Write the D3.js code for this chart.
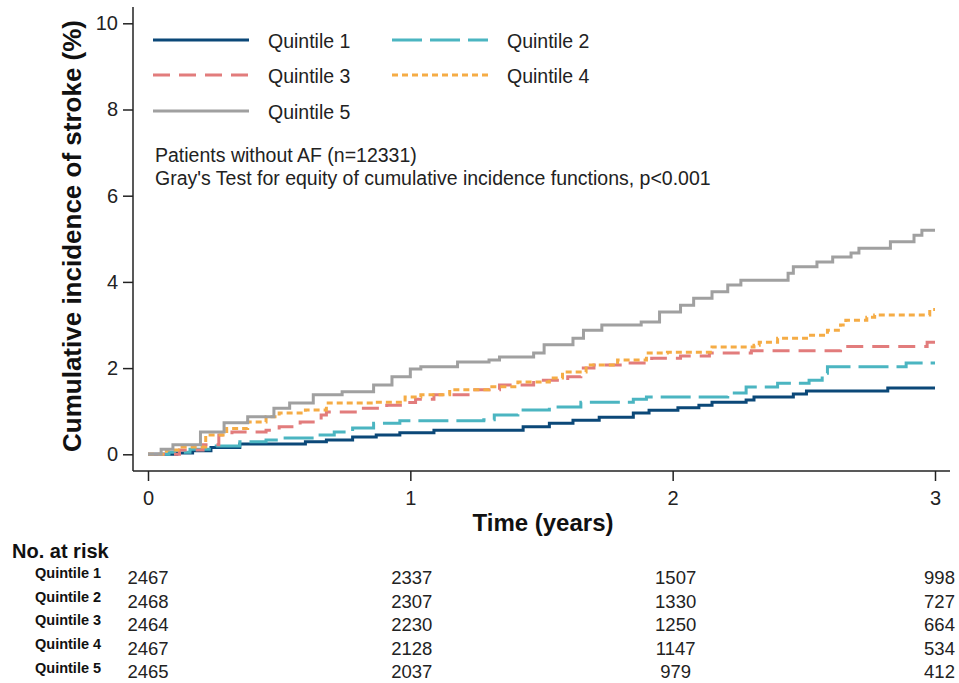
<!DOCTYPE html>
<html>
<head>
<meta charset="utf-8">
<script src="https://cdn.jsdelivr.net/npm/d3@7"></script>
<style>
  body { margin: 0; background: #fff; }
  svg { font-family: "Liberation Sans", Arial, sans-serif; }
  .axis text { font-size: 20px; fill: #222; }
  .axis line { stroke: #222; stroke-width: 1.5px; }
  .curve { fill: none; stroke-width: 3px; }
</style>
</head>
<body>
<svg id="chart" width="959" height="683"></svg>
<script>
// cumulative incidence (%), step points [time in years, value]
var q1 = [[0,0],[0.11,0.03],[0.17,0.08],[0.24,0.16],[0.35,0.24],[0.60,0.29],[0.68,0.33],[0.78,0.40],
          [0.87,0.45],[0.96,0.50],[1.09,0.56],[1.43,0.64],[1.53,0.72],[1.62,0.79],[1.72,0.86],[1.85,0.96],
          [1.91,1.02],[2.02,1.08],[2.10,1.14],[2.15,1.21],[2.28,1.26],[2.31,1.33],[2.46,1.40],[2.51,1.47],
          [2.82,1.54],[3.0,1.54]];
var q2 = [[0,0],[0.08,0.05],[0.16,0.12],[0.26,0.19],[0.35,0.29],[0.45,0.33],[0.50,0.38],[0.64,0.45],
          [0.71,0.52],[0.78,0.61],[0.86,0.72],[0.96,0.78],[1.28,0.80],[1.32,0.91],[1.41,1.03],[1.53,1.10],
          [1.65,1.21],[1.85,1.28],[1.90,1.33],[2.21,1.42],[2.28,1.56],[2.40,1.65],[2.52,1.72],[2.57,1.88],
          [2.59,2.03],[2.89,2.12],[3.0,2.12]];
var q3 = [[0,0],[0.12,0.10],[0.21,0.22],[0.27,0.45],[0.32,0.52],[0.45,0.56],[0.50,0.64],[0.58,0.75],
          [0.66,0.91],[0.68,0.98],[0.80,1.07],[0.91,1.14],[0.98,1.20],[1.02,1.28],[1.09,1.38],[1.22,1.50],
          [1.34,1.61],[1.47,1.72],[1.60,1.80],[1.65,2.00],[1.70,2.07],[1.80,2.12],[1.92,2.23],[2.03,2.28],
          [2.14,2.35],[2.30,2.40],[2.64,2.50],[2.97,2.60],[3.0,2.60]];
var q4 = [[0,0],[0.07,0.10],[0.13,0.17],[0.22,0.45],[0.30,0.60],[0.38,0.75],[0.45,0.87],[0.50,0.96],
          [0.60,1.03],[0.68,1.19],[0.86,1.21],[0.98,1.33],[1.04,1.38],[1.15,1.50],[1.30,1.57],[1.41,1.68],
          [1.53,1.77],[1.58,1.91],[1.67,2.07],[1.79,2.19],[1.90,2.35],[1.98,2.37],[2.15,2.49],[2.31,2.53],
          [2.33,2.60],[2.40,2.69],[2.51,2.76],[2.59,2.88],[2.64,3.00],[2.66,3.11],[2.74,3.18],[2.77,3.23],
          [2.98,3.36],[3.0,3.36]];
var q5 = [[0,0],[0.05,0.12],[0.095,0.22],[0.20,0.52],[0.29,0.73],[0.38,0.87],[0.48,1.07],[0.54,1.19],
          [0.63,1.38],[0.74,1.45],[0.86,1.61],[0.93,1.80],[1.0,1.98],[1.04,2.03],[1.18,2.14],[1.30,2.19],
          [1.34,2.26],[1.47,2.35],[1.51,2.54],[1.62,2.69],[1.66,2.88],[1.73,3.00],[1.88,3.07],[1.95,3.30],
          [2.03,3.46],[2.08,3.62],[2.15,3.77],[2.21,3.93],[2.26,4.04],[2.44,4.20],[2.46,4.35],[2.55,4.46],
          [2.61,4.58],[2.68,4.67],[2.71,4.78],[2.83,4.93],[2.92,5.08],[2.95,5.20],[3.0,5.20]];

var seriesNames = ["Quintile 1", "Quintile 2", "Quintile 3", "Quintile 4", "Quintile 5"];
var seriesData = [q1, q2, q3, q4, q5];
var seriesColors = ["#0b4878", "#4bb5c1", "#e27c7c", "#f5ac45", "#a0a0a0"];
var seriesDash = [null, "30,8", "17,9", "6,4", null];

var yTicks = [0, 2, 4, 6, 8, 10];
var xTicks = [0, 1, 2, 3];

// number at risk table
var riskTimes = [0, 1, 2, 3];
var risk1 = [2467, 2337, 1507, 998];
var risk2 = [2468, 2307, 1330, 727];
var risk3 = [2464, 2230, 1250, 664];
var risk4 = [2467, 2128, 1147, 534];
var risk5 = [2465, 2037, 979, 412];
var riskRows = [risk1, risk2, risk3, risk4, risk5];

var svg = d3.select("#chart");

var x = d3.scaleLinear().domain([0, 3]).range([148, 935]);
var y = d3.scaleLinear().domain([0, 10]).range([454.3, 23.3]);

// axes (domain lines drawn by hand so they run past the tick range)
var yAxis = svg.append("g")
  .attr("class", "axis")
  .attr("transform", "translate(133,0)")
  .call(d3.axisLeft(y).tickValues(yTicks).tickSize(10).tickPadding(5));
yAxis.select(".domain").remove();

var xAxis = svg.append("g")
  .attr("class", "axis")
  .attr("transform", "translate(0,471)")
  .call(d3.axisBottom(x).tickValues(xTicks).tickSize(10).tickPadding(10)
        .tickFormat(d3.format("d")));
xAxis.select(".domain").remove();

svg.append("line")
  .attr("x1", 133).attr("x2", 133).attr("y1", 7).attr("y2", 471)
  .style("stroke", "#222").style("stroke-width", 1.5);
svg.append("line")
  .attr("x1", 133).attr("x2", 950).attr("y1", 471).attr("y2", 471)
  .style("stroke", "#222").style("stroke-width", 1.5);

// axis titles
svg.append("text")
  .attr("transform", "translate(81,236) rotate(-90)")
  .style("text-anchor", "middle")
  .style("font-size", "26px")
  .style("font-weight", "bold")
  .style("fill", "#111")
  .text("Cumulative incidence of stroke (%)");

svg.append("text")
  .attr("x", 543).attr("y", 531)
  .style("text-anchor", "middle")
  .style("font-size", "24px")
  .style("font-weight", "bold")
  .style("fill", "#111")
  .text("Time (years)");

// curves
var line_generator = d3.line()
  .x(function(d) { return x(d[0]); })
  .y(function(d) { return y(d[1]); })
  .curve(d3.curveStepAfter);

seriesData.forEach(function(data, i) {
  svg.append("path")
    .datum(data)
    .attr("class", "curve")
    .style("stroke", seriesColors[i])
    .style("stroke-dasharray", seriesDash[i])
    .attr("d", line_generator);
});

// legend
var legendPos = [[153, 40], [392, 40], [153, 75], [392, 75], [153, 111]];
var legend = svg.append("g").attr("class", "legend");
seriesNames.forEach(function(name, i) {
  var p = legendPos[i];
  legend.append("line")
    .attr("x1", p[0]).attr("x2", p[0] + 96)
    .attr("y1", p[1]).attr("y2", p[1])
    .style("stroke", seriesColors[i])
    .style("stroke-width", 3)
    .style("stroke-dasharray", seriesDash[i]);
  legend.append("text")
    .attr("x", p[0] + 115).attr("y", p[1] + 8)
    .style("font-size", "19.5px")
    .style("fill", "#222")
    .text(name);
});

// annotation
svg.append("text")
  .attr("x", 155).attr("y", 162)
  .style("font-size", "19.5px").style("fill", "#222")
  .text("Patients without AF (n=12331)");
svg.append("text")
  .attr("x", 155).attr("y", 185)
  .style("font-size", "19.5px").style("fill", "#222")
  .text("Gray's Test for equity of cumulative incidence functions, p<0.001");

// number at risk
svg.append("text")
  .attr("x", 12).attr("y", 558)
  .style("font-size", "20px").style("font-weight", "bold").style("fill", "#111")
  .text("No. at risk");

riskRows.forEach(function(row, i) {
  svg.append("text")
    .attr("x", 35).attr("y", 578 + i * 23.7)
    .style("font-size", "14.5px").style("font-weight", "bold").style("fill", "#111")
    .text(seriesNames[i]);
  row.forEach(function(n, j) {
    svg.append("text")
      .attr("x", x(riskTimes[j]) + riskTimes[j] * 1.5)
      .attr("y", 584 + i * 23.5)
      .style("text-anchor", "middle")
      .style("font-size", "18.5px").style("fill", "#222")
      .text(n);
  });
});
</script>
</body>
</html>
